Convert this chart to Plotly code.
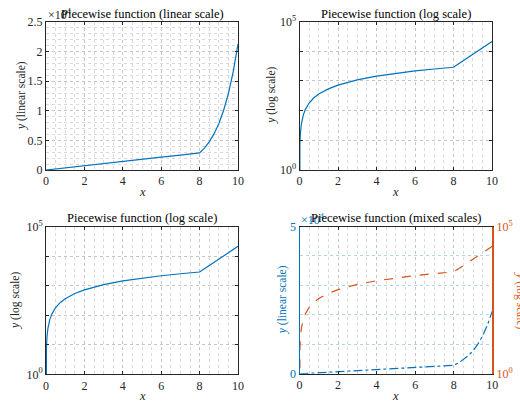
import plotly.graph_objects as go

# ---- data ----
x_vals = [0, 0.01, 0.02, 0.05, 0.1, 0.2, 0.3, 0.5, 0.75, 1, 1.5, 2, 3, 4, 5, 6, 7, 8,
          8.25, 8.5, 8.75, 9, 9.25, 9.5, 9.75, 10]
y_vals = [0, 3.6, 7.2, 18, 36, 72, 108, 180, 270, 360, 540, 720, 1080, 1440, 1800, 2160, 2520, 2880,
          3700, 4750, 6100, 7830, 10050, 12900, 16570, 21280]

x_ticks = [0, 2, 4, 6, 8, 10]
lin_ticks = [0, 5000, 10000, 15000, 20000, 25000]
lin_labels = ["0", "0.5", "1", "1.5", "2", "2.5"]
log_ticks = [1, 10, 100, 1000, 10000, 100000]
log_labels = ["10<sup>0</sup>", "", "", "", "", "10<sup>5</sup>"]
mix_ticks = [0, 50000]
mix_labels = ["0", "5"]

titles = ["Piecewise function (linear scale)", "Piecewise function (log scale)",
          "Piecewise function (log scale)", "Piecewise function (mixed scales)"]

W, H = 520, 402
BLUE = "#0072BD"
ORANGE = "#D95319"
AX = "#262626"
GRID = "#c4c4c4"
MGRID = "#dadada"
FONT = "Liberation Serif"


def px(v):
    return v / W


def py(v):
    return 1 - v / H


boxes = [(46, 238, 22, 170), (299.5, 492, 21.5, 170), (46, 238, 226.5, 374.3), (299.5, 492.3, 226.5, 373.8)]

fig = go.Figure()

fig.add_trace(go.Scatter(x=x_vals, y=y_vals, mode="lines", line=dict(color=BLUE, width=1.2),
                         xaxis="x", yaxis="y", showlegend=False))
fig.add_trace(go.Scatter(x=x_vals, y=y_vals, mode="lines", line=dict(color=BLUE, width=1.2),
                         xaxis="x2", yaxis="y2", showlegend=False))
fig.add_trace(go.Scatter(x=x_vals, y=y_vals, mode="lines", line=dict(color=BLUE, width=1.2),
                         xaxis="x3", yaxis="y3", showlegend=False))
fig.add_trace(go.Scatter(x=x_vals, y=y_vals, mode="lines", line=dict(color=BLUE, width=1.2, dash="dashdot"),
                         xaxis="x4", yaxis="y4", showlegend=False))
fig.add_trace(go.Scatter(x=x_vals, y=y_vals, mode="lines", line=dict(color=ORANGE, width=1.2, dash="dash"),
                         xaxis="x4", yaxis="y5", showlegend=False))

TS = 12
tickfont = dict(family=FONT, size=TS, color=AX)


def xaxis(i, anchor):
    l, r, t, b = boxes[i]
    return dict(domain=[px(l), px(r)], anchor=anchor, range=[0, 10], tickvals=x_ticks,
                ticks="inside", ticklen=3, tickcolor=AX, showline=True, linecolor=AX, linewidth=1,
                mirror="ticks", showgrid=True, gridcolor=GRID, griddash="dot", gridwidth=1,
                minor=dict(dtick=0.5, tick0=0, showgrid=True, gridcolor=MGRID, griddash="dot", ticks=""),
                zeroline=False, tickfont=tickfont, fixedrange=True, automargin=False)


def ydom(i):
    l, r, t, b = boxes[i]
    return [py(b), py(t)]


layout = dict(width=W, height=H, margin=dict(l=0, r=0, t=0, b=0, autoexpand=False), plot_bgcolor="white",
              paper_bgcolor="white", showlegend=False, font=dict(family=FONT, color=AX))

layout["xaxis"] = xaxis(0, "y")
layout["xaxis2"] = xaxis(1, "y2")
layout["xaxis3"] = xaxis(2, "y3")
layout["xaxis4"] = xaxis(3, "y4")

layout["yaxis"] = dict(domain=ydom(0), anchor="x", range=[0, 25000], tickvals=lin_ticks, ticktext=lin_labels,
                       ticks="inside", ticklen=3, tickcolor=AX, showline=True, linecolor=AX, linewidth=1,
                       mirror="ticks", showgrid=True, gridcolor=GRID, griddash="dot",
                       minor=dict(dtick=1000, tick0=0, showgrid=True, gridcolor=MGRID, griddash="dot", ticks=""),
                       zeroline=False, tickfont=tickfont, fixedrange=True, automargin=False)
for name, anc, i in [("yaxis2", "x2", 1), ("yaxis3", "x3", 2)]:
    layout[name] = dict(domain=ydom(i), anchor=anc, type="log", range=[0, 5], tickvals=log_ticks,
                        ticktext=log_labels, ticks="inside", ticklen=3, tickcolor=AX, showline=True,
                        linecolor=AX, linewidth=1, mirror="ticks", showgrid=True, gridcolor=GRID,
                        griddash="dot", zeroline=False, tickfont=tickfont, fixedrange=True, automargin=False)

layout["yaxis4"] = dict(domain=ydom(3), anchor="x4", range=[0, 50000], tickvals=mix_ticks, ticktext=mix_labels,
                        ticks="inside", ticklen=3, tickcolor=BLUE, showline=True, linecolor=BLUE, linewidth=1,
                        showgrid=False,
                        minor=dict(dtick=10000, tick0=0, showgrid=True, gridcolor="rgba(0,114,189,0.3)",
                                   griddash="dot", ticks=""),
                        zeroline=False, tickfont=dict(family=FONT, size=TS, color=BLUE), fixedrange=True,
                        automargin=False)
layout["yaxis5"] = dict(overlaying="y4", anchor="x4", side="right", type="log", range=[0, 5],
                        tickvals=[1, 100000], ticktext=["10<sup>0</sup>", "10<sup>5</sup>"],
                        ticks="inside", ticklen=3, tickcolor=ORANGE, showline=True, linecolor=ORANGE,
                        linewidth=1.5, showgrid=False, zeroline=False,
                        tickfont=dict(family=FONT, size=TS, color=ORANGE), fixedrange=True, automargin=False)

ann = []
tfont = dict(family=FONT, size=12.5, color="#000000")
LS = 11.5

ann.append(dict(x=px(46), y=py(15), xref="paper", yref="paper", text="×10<sup>4</sup>", showarrow=False,
                xanchor="left", yanchor="middle", font=dict(family=FONT, size=TS, color=AX)))
ann.append(dict(x=px(299), y=py(220), xref="paper", yref="paper", text="×10<sup>4</sup>", showarrow=False,
                xanchor="left", yanchor="middle", font=dict(family=FONT, size=TS, color=BLUE)))

title_y = [13.5, 13.5, 218, 218]
for i, t in enumerate(titles):
    l, r, tp, b = boxes[i]
    ann.append(dict(x=px((l + r) / 2), y=py(title_y[i]), xref="paper", yref="paper", text=t,
                    showarrow=False, xanchor="center", yanchor="middle", font=tfont))

xlab_y = [192, 192, 396, 396]
for i in range(4):
    l, r, tp, b = boxes[i]
    ann.append(dict(x=px((l + r) / 2), y=py(xlab_y[i]), xref="paper", yref="paper", text="<i>x</i>",
                    showarrow=False, xanchor="center", yanchor="middle",
                    font=dict(family=FONT, size=12.5, color=AX)))

ylabs = [("<i>y</i> (linear scale)", 21, AX), ("<i>y</i> (log scale)", 272, AX),
         ("<i>y</i> (log scale)", 15.5, AX), ("<i>y</i> (linear scale)", 282, BLUE)]
for i, (t, xx, c) in enumerate(ylabs):
    l, r, tp, b = boxes[i]
    ann.append(dict(x=px(xx), y=py((tp + b) / 2), xref="paper", yref="paper", text=t, textangle=-90,
                    showarrow=False, xanchor="center", yanchor="middle",
                    font=dict(family=FONT, size=LS, color=c)))
ann.append(dict(x=px(521), y=py((226.5 + 373.8) / 2), xref="paper", yref="paper", text="<i>y</i> (log scale)",
                textangle=90, showarrow=False, xanchor="center", yanchor="middle",
                font=dict(family=FONT, size=LS, color=ORANGE)))

layout["annotations"] = ann
fig.update_layout(**layout)
fig.write_html("out.html", config={"displayModeBar": False},
               post_script="document.body.style.margin='0';document.body.style.padding='0';"
                           "document.body.style.overflow='hidden';")
